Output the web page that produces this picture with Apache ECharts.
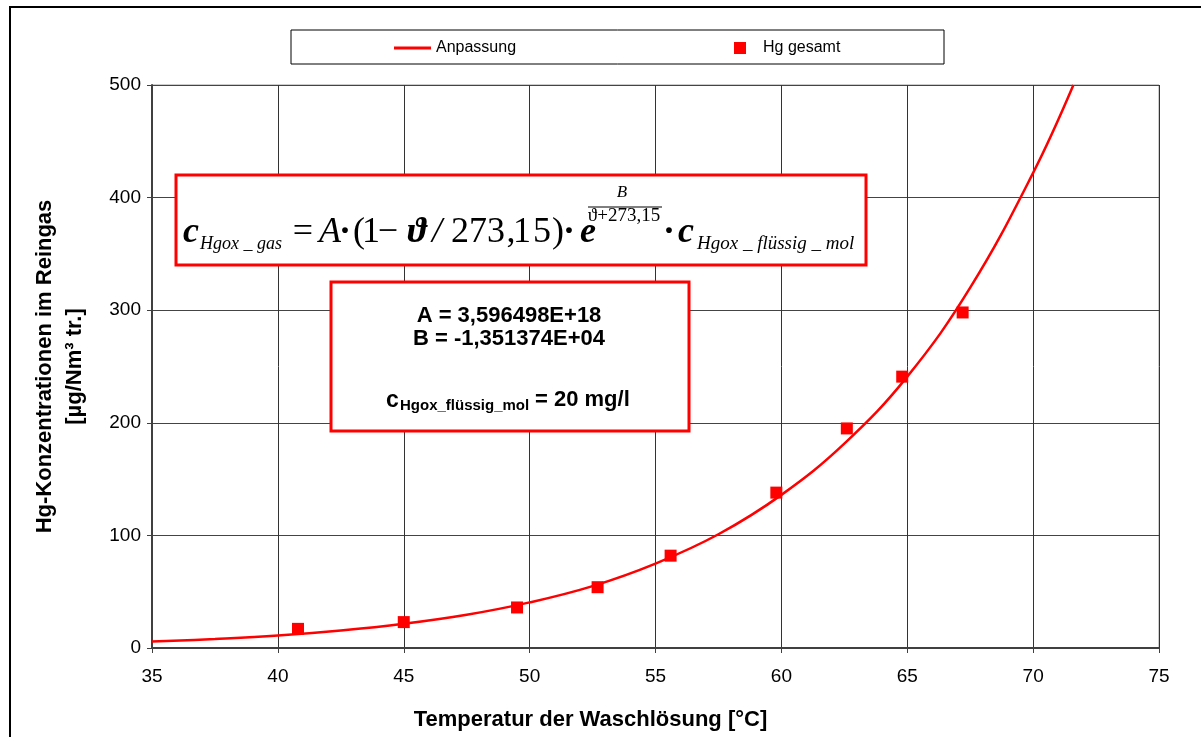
<!DOCTYPE html>
<html>
<head>
<meta charset="utf-8">
<script src="https://cdn.jsdelivr.net/npm/echarts@6/dist/echarts.min.js"></script>
<style>
html,body{margin:0;padding:0;background:#fff;}
#chart{width:1201px;height:737px;}
</style>
</head>
<body>
<div id="chart"></div>
<script>
// ---- data ----
const xTicks = [35, 40, 45, 50, 55, 60, 65, 70, 75];
const yTicks = [0, 100, 200, 300, 400, 500];

// measured points "Hg gesamt"
const measuredTemp = [40.8, 45.0, 49.5, 52.7, 55.6, 59.8, 62.6, 64.8, 67.2];
const measuredHg   = [17, 23, 36, 54, 82, 138, 195, 241, 298];

// fitted curve "Anpassung"
const fitTemp = [35, 37.5, 40, 42.5, 45, 47.5, 50, 52.5, 55, 57.5, 60, 62.5, 65, 67.5, 70, 71.6];
const fitHg   = [5.7, 8, 11, 15.5, 21.5, 29.5, 40.5, 55, 75, 101, 136, 181.5, 241, 320, 422, 500];

const legendNames = ['Anpassung', 'Hg gesamt'];
const xTitle = 'Temperatur der Waschlösung [°C]';
const yTitle = 'Hg-Konzentrationen im Reingas\n[µg/Nm³ tr.]';
const paramLines = ['A = 3,596498E+18', 'B = -1,351374E+04'];

const RED = '#ff0000';
const SANS = '"Liberation Sans", Arial, sans-serif';
const SERIF = '"Liberation Serif", "DejaVu Serif", serif';

const fitData = fitTemp.map((t, i) => [t, fitHg[i]]);
const measData = measuredTemp.map((t, i) => [t, measuredHg[i]]);

function txt(text, x, y, font, align, z) {
  return {
    type: 'text', z: z || 20,
    style: { text: text, x: x, y: y, font: font, fill: '#000',
             textAlign: align || 'center', textVerticalAlign: 'middle' }
  };
}

const mainF = 'italic bold 36px ' + SERIF;
const regF = '36px ' + SERIF;
const itF = 'italic 36px ' + SERIF;
const mY = 233;

const graphics = [
  // outer frame
  { type: 'rect', z: 1, shape: { x: 10, y: 7, width: 1205, height: 745 },
    style: { fill: 'none', stroke: '#000', lineWidth: 2 } },
  // legend frame
  { type: 'rect', z: 1, shape: { x: 291, y: 30, width: 653, height: 34 },
    style: { fill: '#fff', stroke: '#000', lineWidth: 1 } },
  // formula box
  { type: 'rect', z: 15, shape: { x: 176, y: 175, width: 690, height: 90 },
    style: { fill: '#fff', stroke: RED, lineWidth: 3 } },
  // parameter box
  { type: 'rect', z: 15, shape: { x: 331, y: 282, width: 358, height: 149 },
    style: { fill: '#fff', stroke: RED, lineWidth: 3 } },

  // formula pieces
  txt('c', 191, mY, mainF),
  txt('Hgox _ gas', 200, 244, 'italic 18px ' + SERIF, 'left'),
  txt('=', 303, mY, regF),
  txt('A', 330, mY, itF),
  txt('·', 345, mY, 'bold 36px ' + SERIF),
  txt('(', 359, mY, regF),
  txt('1', 371, mY, regF),
  txt('−', 388, mY, regF),
  txt('ϑ', 417, mY, mainF),
  txt('/', 437, mY, itF),
  txt('273', 478, mY, regF),
  txt(',', 511, mY, regF),
  txt('1', 522, mY, regF),
  txt('5', 542, mY, regF),
  txt(')', 558, mY, regF),
  txt('·', 569, mY, 'bold 36px ' + SERIF),
  txt('e', 588, mY, mainF),
  txt('B', 622, 193, 'italic 17px ' + SERIF),
  { type: 'line', z: 20, shape: { x1: 588, y1: 207, x2: 662, y2: 207 },
    style: { stroke: '#000', lineWidth: 1 } },
  txt('ϑ+273,15', 624, 216, '19px ' + SERIF),
  txt('·', 669, mY, 'bold 36px ' + SERIF),
  txt('c', 686, mY, mainF),
  txt('Hgox _ flüssig _ mol', 697, 244, 'italic 19px ' + SERIF, 'left'),

  // parameter text
  txt(paramLines[0], 509, 316, 'bold 22px ' + SANS),
  txt(paramLines[1], 509, 339, 'bold 22px ' + SANS),
  txt('c', 386, 401, 'bold 23px ' + SANS, 'left'),
  txt('Hgox_flüssig_mol', 400, 406, 'bold 15px ' + SANS, 'left'),
  txt('= 20 mg/l', 535, 400, 'bold 22px ' + SANS, 'left')
];

const chart = echarts.init(document.getElementById('chart'), null, { renderer: 'canvas' });
chart.setOption({
  backgroundColor: '#fff',
  animation: false,
  textStyle: { fontFamily: SANS },
  grid: { left: 152, right: 42, top: 85, bottom: 89, show: true,
          borderColor: '#9a9a9a', borderWidth: 1, backgroundColor: 'transparent' },
  legend: [
    { data: [{ name: legendNames[0], icon: 'rect' }], left: 394, top: 40, padding: 0,
      itemWidth: 37, itemHeight: 3,
      textStyle: { fontSize: 16, color: '#000', fontFamily: SANS, lineHeight: 14 } },
    { data: [{ name: legendNames[1], icon: 'rect' }], left: 734, top: 40, padding: 0,
      itemWidth: 12, itemHeight: 12,
      textStyle: { fontSize: 16, color: '#000', fontFamily: SANS, padding: [0, 0, 0, 12] } }
  ],
  xAxis: {
    type: 'value',
    min: xTicks[0], max: xTicks[xTicks.length - 1], interval: xTicks[1] - xTicks[0],
    name: xTitle, nameLocation: 'middle', nameGap: 61,
    nameTextStyle: { fontSize: 22, fontWeight: 'bold', color: '#000', padding: [0, 130, 0, 0] },
    axisLine: { show: true, onZero: false, lineStyle: { color: '#404040', width: 2 } },
    axisTick: { show: true, length: 5, lineStyle: { color: '#404040', width: 1 } },
    axisLabel: { fontSize: 19, color: '#000', margin: 19 },
    splitLine: { show: true, lineStyle: { color: '#333', width: 1 } }
  },
  yAxis: {
    type: 'value',
    min: yTicks[0], max: yTicks[yTicks.length - 1], interval: yTicks[1] - yTicks[0],
    name: yTitle, nameLocation: 'middle', nameRotate: 90, nameGap: 62,
    nameTextStyle: { fontSize: 22, fontWeight: 'bold', color: '#000', lineHeight: 30 },
    axisLine: { show: true, onZero: false, lineStyle: { color: '#404040', width: 2 } },
    axisTick: { show: true, length: 5, lineStyle: { color: '#404040', width: 1 } },
    axisLabel: { fontSize: 19, color: '#000', margin: 11 },
    splitLine: { show: true, lineStyle: { color: '#444', width: 1 } }
  },
  series: [
    { name: legendNames[0], type: 'line', data: fitData, smooth: 0.4,
      showSymbol: false, symbol: 'none', clip: true,
      lineStyle: { color: RED, width: 2.5 }, itemStyle: { color: RED }, z: 3 },
    { name: legendNames[1], type: 'scatter', data: measData,
      symbol: 'rect', symbolSize: 12, itemStyle: { color: RED, opacity: 1 }, z: 4 }
  ],
  graphic: graphics
});
</script>
</body>
</html>
